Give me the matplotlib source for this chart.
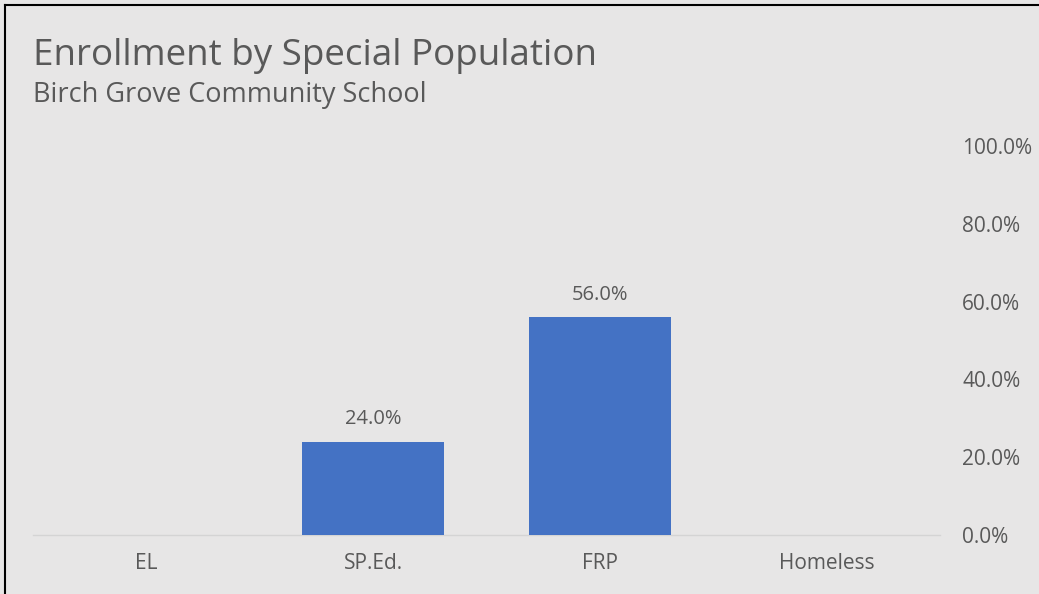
import numpy as np
import matplotlib
matplotlib.use("Agg")
import matplotlib.pyplot as plt
from matplotlib.lines import Line2D

# Data
categories = ["EL", "SP.Ed.", "FRP", "Homeless"]
values = [np.nan, 24.0, 56.0, np.nan]   # percent; blank categories have no value
y_ticks = [0, 20, 40, 60, 80, 100]

title = "Enrollment by Special Population"
subtitle = "Birch Grove Community School"

bg = "#e7e6e6"
bar_color = "#4472c4"
text_color = "#595959"

plt.rcParams["font.family"] = ["Open Sans", "DejaVu Sans"]

fig = plt.figure(figsize=(10.39, 5.94), dpi=100)
fig.patch.set_facecolor(bg)

ax = fig.add_axes([33 / 1039, 59 / 594, 907 / 1039, 389 / 594])
ax.set_facecolor(bg)

x = np.arange(len(categories))
bars = ax.bar(x, np.nan_to_num(values), width=0.625, color=bar_color, zorder=3)

for xi, v in zip(x, values):
    if not np.isnan(v):
        ax.annotate(f"{v:.1f}%", (xi, v), xytext=(0, 9), textcoords="offset points",
                    ha="center", va="bottom", fontsize=14.5, color=text_color)

ax.set_xlim(-0.5, len(categories) - 0.5)
ax.set_ylim(0, 100)
ax.set_xticks(x)
ax.set_xticklabels(categories, fontsize=15, color=text_color)
ax.set_yticks(y_ticks)
ax.set_yticklabels([f"{t:.1f}%" for t in y_ticks], fontsize=15, color=text_color)
ax.yaxis.tick_right()
ax.tick_params(axis="y", length=0, pad=16)
ax.tick_params(axis="x", length=0, pad=13)
for s in ["top", "right", "left"]:
    ax.spines[s].set_visible(False)
ax.spines["bottom"].set_color("#d4d4d4")
ax.spines["bottom"].set_linewidth(1.0)

fig.text(33 / 1039, 1 - 65 / 594, title, fontsize=26.5, color=text_color, ha="left", va="baseline")
fig.text(33 / 1039, 1 - 102 / 594, subtitle, fontsize=19.5, color=text_color, ha="left", va="baseline")

# black frame on left and top edges
fig.add_artist(Line2D([5 / 1039, 5 / 1039], [0, 1 - 5 / 594], transform=fig.transFigure, color="black", lw=1.5))
fig.add_artist(Line2D([5 / 1039, 1], [1 - 5 / 594, 1 - 5 / 594], transform=fig.transFigure, color="black", lw=1.5))

fig.savefig("out.png", dpi=100, facecolor=bg)
